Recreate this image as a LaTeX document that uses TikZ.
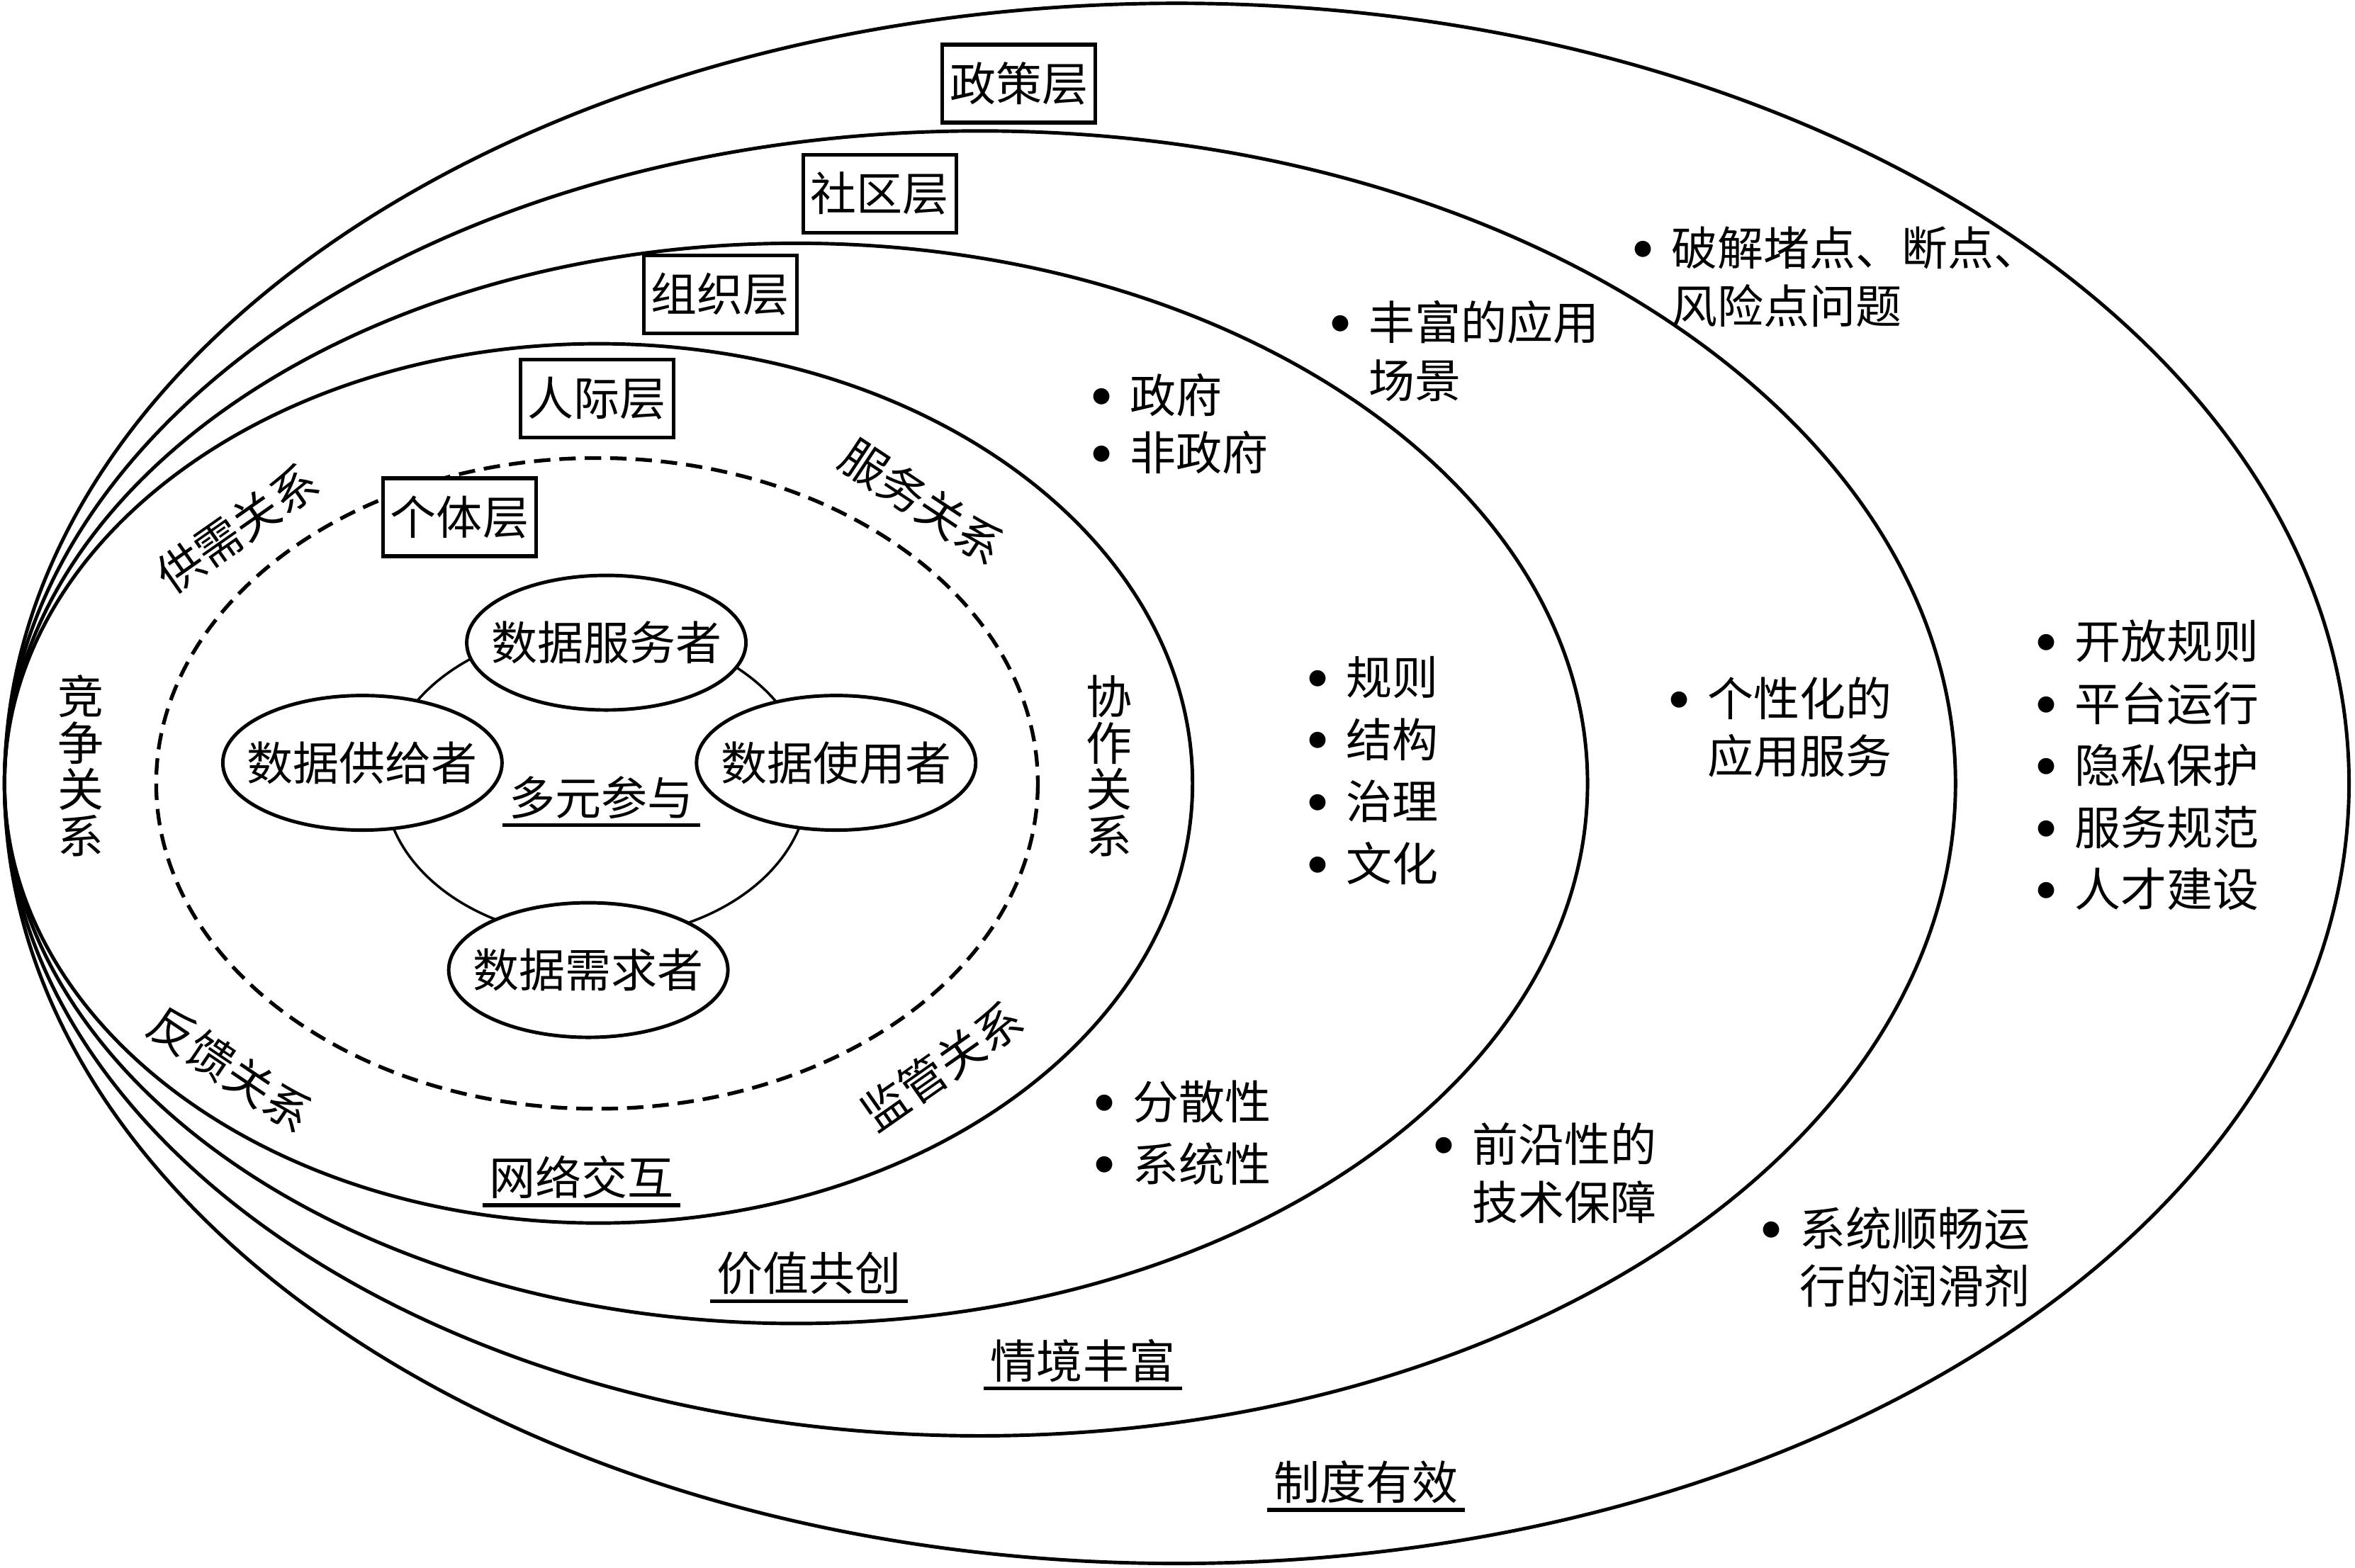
\documentclass[tikz,border=0pt]{standalone}
\usepackage{fontspec}
\setmainfont{Noto Sans CJK SC}
\newfontfamily\symfont{DejaVu Sans}
\usetikzlibrary{shapes.geometric}

\newcommand{\bul}{\makebox[0.3cm]{\raisebox{4.3pt}{\symfont\fontsize{8.5}{8.5}\selectfont ●}}\hspace{0.25cm}}
\newcommand{\cont}{\hspace*{0.55cm}}

\begin{document}
\begin{tikzpicture}[x=0.021193cm, y=-0.021193cm,
  every node/.style={font=\fontsize{18.5}{22}\selectfont},
  ring/.style={line width=1.4pt},
  layerbox/.style={draw, line width=1.5pt, fill=white, minimum width=2.16cm, minimum height=1.1cm, inner sep=0pt},
  actor/.style={draw, ellipse, line width=1.4pt, fill=white, minimum width=3.94cm, minimum height=1.9cm, inner xsep=-0.25cm, inner ysep=0pt},
  ulabel/.style={inner xsep=2.5pt, inner ysep=2.4pt},
  uline/.style={line width=1.6pt},
  vlabel/.style={align=center, inner sep=0pt, font=\fontsize{18.5}{18.7}\selectfont},
  note/.style={anchor=base west, inner sep=0pt, font=\fontsize{18.5}{24.9}\selectfont},
  wrapnote/.style={note, font=\fontsize{18.5}{23.2}\selectfont}]
\useasboundingbox (0,0) rectangle (1568,1044);

% nested layers, all touching at the left
\draw[ring] (783.5,521.7) ellipse [x radius=780.5, y radius=519.5];
\draw[ring] (652.5,521.7) ellipse [x radius=649.5, y radius=434.5];
\draw[ring] (530,521.7) ellipse [x radius=527, y radius=359.7];
\draw[ring] (398.5,521.7) ellipse [x radius=395.5, y radius=292.8];
\draw[line width=1.5pt, dash pattern=on 6.6pt off 3.6pt] (397.5,521.7) ellipse [x radius=293.5, y radius=216.7];
\draw[line width=1pt] (397,521.7) ellipse [x radius=141, y radius=103];

% actors
\node[actor] (server) at (403.7,428) {数据服务者};
\node[actor] (supplier) at (241.3,508) {数据供给者};
\node[actor] (user) at (556.7,508) {数据使用者};
\node[actor] (demander) at (391.7,646) {数据需求者};

% layer names
\node[layerbox] (policy) at (678.4,55.7) {政策层};
\node[layerbox] (community) at (585.8,129) {社区层};
\node[layerbox] (organization) at (479.6,196) {组织层};
\node[layerbox] (interpersonal) at (397.5,265.5) {人际层};
\node[layerbox] (individual) at (306,344.5) {个体层};

% relations
\node[vlabel] (compete) at (54,510) {竞\\争\\关\\系};
\node[vlabel] (cooperate) at (738.5,510) {协\\作\\关\\系};
\node[rotate=35, inner sep=0pt] (supply) at (158,352) {供需关系};
\node[rotate=-33.5, inner sep=0pt] (service) at (614,334) {服务关系};
\node[rotate=-34, inner sep=0pt] (feedback) at (153.5,712) {反馈关系};
\node[rotate=35, inner sep=0pt] (supervise) at (627,710) {监管关系};

% underlined captions
\node[ulabel] (multi) at (400.5,531) {多元参与};
\node[ulabel] (network) at (387,784) {网络交互};
\node[ulabel] (value) at (538.5,848) {价值共创};
\node[ulabel] (context) at (721,906) {情境丰富};
\node[ulabel] (system) at (909.5,987) {制度有效};
\foreach \n in {multi,network,value,context,system}
  \draw[uline] (\n.south west) -- (\n.south east);

% bullet notes
\node[wrapnote] (gov) at (726,274.7) {\begin{tabular}[t]{@{}l@{}}\bul 政府\\ \bul 非政府\end{tabular}};
\node[wrapnote] (scene) at (885,226.3) {\begin{tabular}[t]{@{}l@{}}\bul 丰富的应用\\ \cont 场景\end{tabular}};
\node[wrapnote] (block) at (1086.5,176.7) {\begin{tabular}[t]{@{}l@{}}\bul 破解堵点、断点、\\ \cont 风险点问题\end{tabular}};
\node[note] (rules) at (870,462.7) {\begin{tabular}[t]{@{}l@{}}\bul 规则\\ \bul 结构\\ \bul 治理\\ \bul 文化\end{tabular}};
\node[wrapnote] (custom) at (1110.5,476.7) {\begin{tabular}[t]{@{}l@{}}\bul 个性化的\\ \cont 应用服务\end{tabular}};
\node[note] (open) at (1355,438.7) {\begin{tabular}[t]{@{}l@{}}\bul 开放规则\\ \bul 平台运行\\ \bul 隐私保护\\ \bul 服务规范\\ \bul 人才建设\end{tabular}};
\node[note] (spread) at (728,745.3) {\begin{tabular}[t]{@{}l@{}}\bul 分散性\\ \bul 系统性\end{tabular}};
\node[wrapnote] (tech) at (954,773.7) {\begin{tabular}[t]{@{}l@{}}\bul 前沿性的\\ \cont 技术保障\end{tabular}};
\node[wrapnote] (lube) at (1172,829.7) {\begin{tabular}[t]{@{}l@{}}\bul 系统顺畅运\\ \cont 行的润滑剂\end{tabular}};
\end{tikzpicture}
\end{document}
